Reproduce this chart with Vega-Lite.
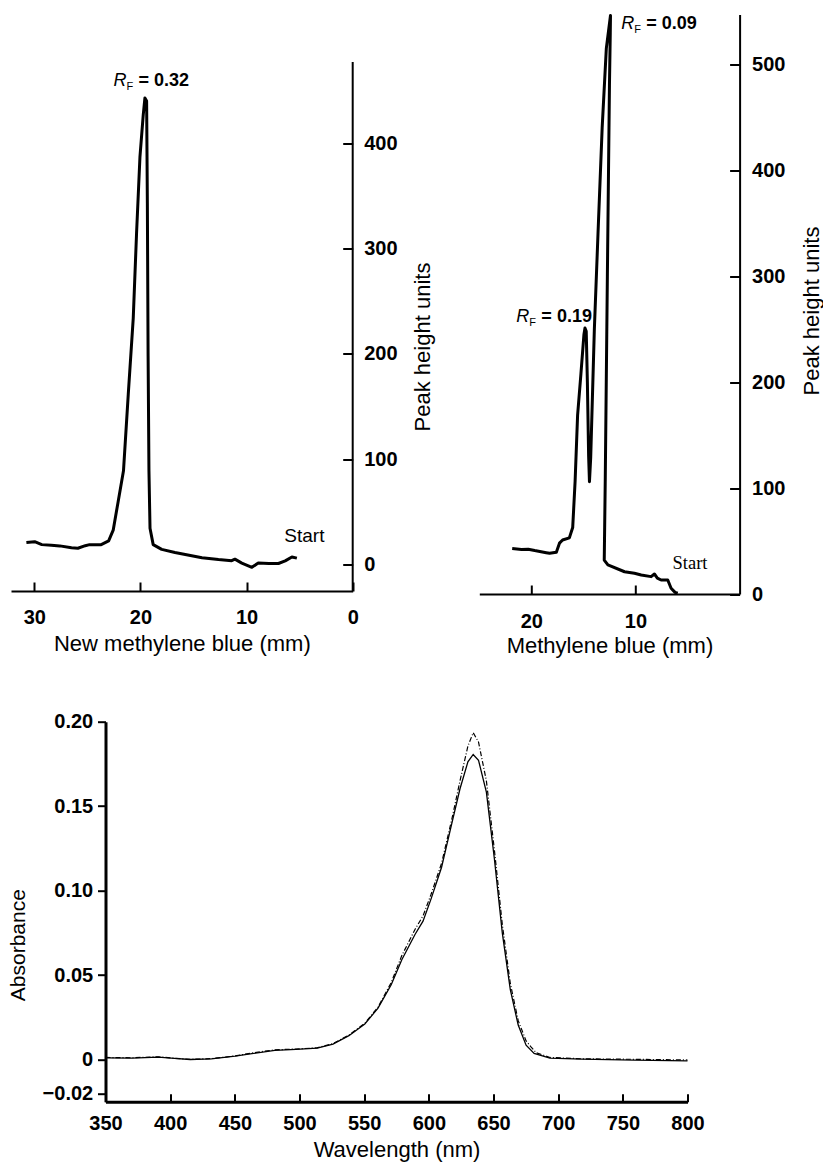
{
  "$schema": "https://vega.github.io/schema/vega-lite/v6.json",
  "background": "white",
  "padding": {"left": 7, "top": 13.5, "right": 2, "bottom": 2},
  "config": {
    "view": {"stroke": null},
    "axis": {"grid": false, "labelFlush": false, "labelOverlap": false, "labelBound": false,
      "domainColor": "black", "tickColor": "black", "labelColor": "black", "titleColor": "black",
      "labelFont": "Liberation Sans", "titleFont": "Liberation Sans"}
  },
  "datasets": {
    "nmb": [
      {"i": 1, "mm": 30.75, "v": 21}, {"i": 2, "mm": 29.97, "v": 21.8}, {"i": 3, "mm": 29.3, "v": 19},
      {"i": 4, "mm": 28.4, "v": 18.5}, {"i": 5, "mm": 27.6, "v": 17.8}, {"i": 6, "mm": 26.5, "v": 16},
      {"i": 7, "mm": 25.9, "v": 15.6}, {"i": 8, "mm": 25.2, "v": 18}, {"i": 9, "mm": 24.8, "v": 19},
      {"i": 10, "mm": 23.7, "v": 19}, {"i": 11, "mm": 23.0, "v": 22.5}, {"i": 12, "mm": 22.57, "v": 32.7},
      {"i": 13, "mm": 22.1, "v": 60}, {"i": 14, "mm": 21.6, "v": 89}, {"i": 15, "mm": 21.15, "v": 161.5},
      {"i": 16, "mm": 20.68, "v": 234}, {"i": 17, "mm": 20.37, "v": 314}, {"i": 18, "mm": 20.05, "v": 386.6},
      {"i": 19, "mm": 19.74, "v": 426.5}, {"i": 20, "mm": 19.58, "v": 442.8}, {"i": 21, "mm": 19.42, "v": 440},
      {"i": 22, "mm": 19.35, "v": 343}, {"i": 23, "mm": 19.28, "v": 198}, {"i": 24, "mm": 19.2, "v": 89},
      {"i": 25, "mm": 19.1, "v": 34.5}, {"i": 26, "mm": 18.8, "v": 19}, {"i": 27, "mm": 18.0, "v": 14.5},
      {"i": 28, "mm": 16.75, "v": 11.5}, {"i": 29, "mm": 14.2, "v": 6.5}, {"i": 30, "mm": 12.65, "v": 4.8},
      {"i": 31, "mm": 11.4, "v": 3.8}, {"i": 32, "mm": 11.1, "v": 5.2}, {"i": 33, "mm": 10.45, "v": 1.5},
      {"i": 34, "mm": 9.5, "v": -2.5}, {"i": 35, "mm": 8.9, "v": 1.5}, {"i": 36, "mm": 7.9, "v": 1.1},
      {"i": 37, "mm": 7.0, "v": 1.1}, {"i": 38, "mm": 6.36, "v": 3.6}, {"i": 39, "mm": 5.73, "v": 7.3},
      {"i": 40, "mm": 5.26, "v": 6.2}
    ],
    "mb": [
      {"i": 1, "mm": 21.84, "v": 43}, {"i": 2, "mm": 20.95, "v": 42}, {"i": 3, "mm": 20.3, "v": 42.3},
      {"i": 4, "mm": 19.68, "v": 41}, {"i": 5, "mm": 18.57, "v": 39}, {"i": 6, "mm": 18.25, "v": 38.4},
      {"i": 7, "mm": 17.6, "v": 39.5}, {"i": 8, "mm": 17.3, "v": 48}, {"i": 9, "mm": 17.0, "v": 51},
      {"i": 10, "mm": 16.35, "v": 53}, {"i": 11, "mm": 16.03, "v": 62.7}, {"i": 12, "mm": 15.8, "v": 106},
      {"i": 13, "mm": 15.56, "v": 168.6}, {"i": 14, "mm": 15.24, "v": 207.8}, {"i": 15, "mm": 14.95, "v": 245},
      {"i": 16, "mm": 14.85, "v": 251}, {"i": 17, "mm": 14.73, "v": 248}, {"i": 18, "mm": 14.62, "v": 200},
      {"i": 19, "mm": 14.5, "v": 130}, {"i": 20, "mm": 14.42, "v": 106}, {"i": 21, "mm": 14.3, "v": 129},
      {"i": 22, "mm": 13.95, "v": 250}, {"i": 23, "mm": 13.6, "v": 340}, {"i": 24, "mm": 13.2, "v": 440},
      {"i": 25, "mm": 12.8, "v": 515}, {"i": 26, "mm": 12.4, "v": 546}, {"i": 27, "mm": 12.42, "v": 530},
      {"i": 28, "mm": 12.5, "v": 480}, {"i": 29, "mm": 12.7, "v": 300}, {"i": 30, "mm": 12.9, "v": 110},
      {"i": 31, "mm": 13.0, "v": 32}, {"i": 32, "mm": 12.65, "v": 27.4}, {"i": 33, "mm": 11.05, "v": 21},
      {"i": 34, "mm": 10.1, "v": 19.6}, {"i": 35, "mm": 9.45, "v": 18}, {"i": 36, "mm": 8.5, "v": 16.4},
      {"i": 37, "mm": 8.18, "v": 18.9}, {"i": 38, "mm": 7.9, "v": 15}, {"i": 39, "mm": 7.54, "v": 13.2},
      {"i": 40, "mm": 6.9, "v": 13.2}, {"i": 41, "mm": 6.58, "v": 5.4}, {"i": 42, "mm": 6.2, "v": 1.5},
      {"i": 43, "mm": 5.94, "v": 0.7}
    ],
    "spec": [
      {"s": "solid", "nm": 350, "a": 0.0010}, {"s": "solid", "nm": 370.5, "a": 0.0008}, {"s": "solid", "nm": 390.9, "a": 0.0014},
      {"s": "solid", "nm": 403.2, "a": 0.0006}, {"s": "solid", "nm": 415.5, "a": 0.0}, {"s": "solid", "nm": 431.8, "a": 0.0004},
      {"s": "solid", "nm": 450.2, "a": 0.0020}, {"s": "solid", "nm": 464.5, "a": 0.0036}, {"s": "solid", "nm": 480.9, "a": 0.0054},
      {"s": "solid", "nm": 497.3, "a": 0.0060}, {"s": "solid", "nm": 513.6, "a": 0.0067}, {"s": "solid", "nm": 525.9, "a": 0.0091},
      {"s": "solid", "nm": 538.2, "a": 0.0141}, {"s": "solid", "nm": 550.5, "a": 0.0210}, {"s": "solid", "nm": 560.7, "a": 0.0304},
      {"s": "solid", "nm": 570.9, "a": 0.0442}, {"s": "solid", "nm": 579.1, "a": 0.0591}, {"s": "solid", "nm": 589.3, "a": 0.0740},
      {"s": "solid", "nm": 595.5, "a": 0.0819}, {"s": "solid", "nm": 601.6, "a": 0.0948}, {"s": "solid", "nm": 609.8, "a": 0.1137},
      {"s": "solid", "nm": 618.0, "a": 0.1405}, {"s": "solid", "nm": 624.1, "a": 0.1603}, {"s": "solid", "nm": 630.2, "a": 0.1762},
      {"s": "solid", "nm": 634.3, "a": 0.1806}, {"s": "solid", "nm": 638.4, "a": 0.1772}, {"s": "solid", "nm": 644.5, "a": 0.1583},
      {"s": "solid", "nm": 650.7, "a": 0.1187}, {"s": "solid", "nm": 656.8, "a": 0.0750}, {"s": "solid", "nm": 663.0, "a": 0.0413},
      {"s": "solid", "nm": 669.1, "a": 0.0204}, {"s": "solid", "nm": 675.2, "a": 0.0085}, {"s": "solid", "nm": 681.4, "a": 0.0036},
      {"s": "solid", "nm": 693.6, "a": 0.0008}, {"s": "solid", "nm": 718.2, "a": 0.0002}, {"s": "solid", "nm": 759.1, "a": -0.0004},
      {"s": "solid", "nm": 800, "a": -0.0008},
      {"s": "dash", "nm": 350, "a": 0.0012}, {"s": "dash", "nm": 370.5, "a": 0.0010}, {"s": "dash", "nm": 390.9, "a": 0.0016},
      {"s": "dash", "nm": 403.2, "a": 0.0007}, {"s": "dash", "nm": 415.5, "a": 0.0001}, {"s": "dash", "nm": 431.8, "a": 0.0005},
      {"s": "dash", "nm": 450.2, "a": 0.0021}, {"s": "dash", "nm": 464.5, "a": 0.0040}, {"s": "dash", "nm": 480.9, "a": 0.0057},
      {"s": "dash", "nm": 497.3, "a": 0.0062}, {"s": "dash", "nm": 513.6, "a": 0.0069}, {"s": "dash", "nm": 525.9, "a": 0.0094},
      {"s": "dash", "nm": 538.2, "a": 0.0145}, {"s": "dash", "nm": 550.5, "a": 0.0214}, {"s": "dash", "nm": 560.7, "a": 0.0310},
      {"s": "dash", "nm": 570.9, "a": 0.0455}, {"s": "dash", "nm": 579.1, "a": 0.0615}, {"s": "dash", "nm": 589.3, "a": 0.0770},
      {"s": "dash", "nm": 595.5, "a": 0.0850}, {"s": "dash", "nm": 601.6, "a": 0.0975}, {"s": "dash", "nm": 609.8, "a": 0.1160},
      {"s": "dash", "nm": 618.0, "a": 0.1430}, {"s": "dash", "nm": 624.1, "a": 0.1650}, {"s": "dash", "nm": 630.2, "a": 0.1855},
      {"s": "dash", "nm": 634.3, "a": 0.1935}, {"s": "dash", "nm": 638.4, "a": 0.1880}, {"s": "dash", "nm": 644.5, "a": 0.1650},
      {"s": "dash", "nm": 650.7, "a": 0.1240}, {"s": "dash", "nm": 656.8, "a": 0.0800}, {"s": "dash", "nm": 663.0, "a": 0.0450},
      {"s": "dash", "nm": 669.1, "a": 0.0230}, {"s": "dash", "nm": 675.2, "a": 0.0110}, {"s": "dash", "nm": 679.0, "a": 0.0075},
      {"s": "dash", "nm": 683.0, "a": 0.0040}, {"s": "dash", "nm": 693.6, "a": 0.0012}, {"s": "dash", "nm": 718.2, "a": 0.0004},
      {"s": "dash", "nm": 759.1, "a": 0.0001}, {"s": "dash", "nm": 800, "a": -0.0003}
    ],
    "labL": [{"mm": 22.54, "v": 459, "t": "= 0.32"}],
    "labR": [{"mm": 21.44, "v": 261.6, "t": "= 0.19"}, {"mm": 11.37, "v": 538, "t": "= 0.09"}],
    "startL": [{"mm": 4.55, "v": 27.2, "t": "Start"}],
    "startR": [{"mm": 4.76, "v": 29.1, "t": "Start"}],
    "axisL": [{"mm": 0, "v": -25, "v2": 477}]
  },
  "spacing": 707.2,
  "bounds": "flush",
  "vconcat": [
    {
      "spacing": 126.3,
      "bounds": "flush",
      "hconcat": [
        {
          "width": 341.7,
          "height": 576.5,
          "layer": [
            {
              "data": {"name": "nmb"},
              "mark": {"type": "line", "color": "black", "strokeWidth": 3, "strokeJoin": "round"},
              "encoding": {
                "x": {"field": "mm", "type": "quantitative",
                  "scale": {"domain": [0, 32.2], "reverse": true, "nice": false, "zero": false},
                  "axis": {"orient": "bottom", "values": [30, 20, 10, 0], "format": "d",
                    "title": "New methylene blue (mm)", "tickSize": -9, "tickWidth": 2, "domainWidth": 2,
                    "labelPadding": 25, "labelFontSize": 20, "labelFontWeight": "bold",
                    "titleFontSize": 22, "titleFontWeight": "normal", "titleY": 52, "titleBaseline": "middle"}},
                "y": {"field": "v", "type": "quantitative",
                  "scale": {"domain": [-25, 522], "nice": false, "zero": false},
                  "axis": {"orient": "right", "values": [0, 100, 200, 300, 400], "format": "d", "domain": false,
                    "title": "Peak height units", "tickSize": -10, "tickWidth": 2,
                    "labelPadding": 21, "labelFontSize": 20, "labelFontWeight": "bold",
                    "titleFontSize": 22, "titleFontWeight": "normal", "titleAngle": 270,
                    "titleX": 70, "titleY": 332, "titleBaseline": "middle", "titleAlign": "center"}},
                "order": {"field": "i", "type": "quantitative"}
              }
            },
            {
              "data": {"name": "axisL"},
              "mark": {"type": "rule", "color": "black", "strokeWidth": 2},
              "encoding": {
                "x": {"field": "mm", "type": "quantitative"},
                "y": {"field": "v", "type": "quantitative"},
                "y2": {"field": "v2"}
              }
            },
            {
              "data": {"name": "labL"},
              "mark": {"type": "text", "font": "Liberation Sans", "fontStyle": "italic", "fontSize": 18, "align": "left", "baseline": "middle", "color": "black"},
              "encoding": {"x": {"field": "mm", "type": "quantitative"}, "y": {"field": "v", "type": "quantitative"}, "text": {"value": "R"}}
            },
            {
              "data": {"name": "labL"},
              "mark": {"type": "text", "font": "Liberation Sans", "fontSize": 11, "align": "left", "baseline": "middle", "dx": 13, "dy": 6, "color": "black"},
              "encoding": {"x": {"field": "mm", "type": "quantitative"}, "y": {"field": "v", "type": "quantitative"}, "text": {"value": "F"}}
            },
            {
              "data": {"name": "labL"},
              "mark": {"type": "text", "font": "Liberation Sans", "fontWeight": "bold", "fontSize": 18, "align": "left", "baseline": "middle", "dx": 25, "color": "black"},
              "encoding": {"x": {"field": "mm", "type": "quantitative"}, "y": {"field": "v", "type": "quantitative"}, "text": {"field": "t"}}
            },
            {
              "data": {"name": "startL"},
              "mark": {"type": "text", "font": "Liberation Sans", "fontSize": 19, "align": "center", "baseline": "middle", "color": "black"},
              "encoding": {"x": {"field": "mm", "type": "quantitative"}, "y": {"field": "v", "type": "quantitative"}, "text": {"field": "t"}}
            }
          ]
        },
        {
          "width": 260.3,
          "height": 579.5,
          "layer": [
            {
              "data": {"name": "mb"},
              "mark": {"type": "line", "color": "black", "strokeWidth": 3, "strokeJoin": "round"},
              "encoding": {
                "x": {"field": "mm", "type": "quantitative",
                  "scale": {"domain": [0, 25], "reverse": true, "nice": false, "zero": false},
                  "axis": {"orient": "bottom", "values": [20, 10], "format": "d",
                    "title": "Methylene blue (mm)", "tickSize": -9, "tickWidth": 2, "domainWidth": 2,
                    "labelPadding": 26.5, "labelFontSize": 20, "labelFontWeight": "bold",
                    "titleFontSize": 22, "titleFontWeight": "normal", "titleY": 51, "titleBaseline": "middle"}},
                "y": {"field": "v", "type": "quantitative",
                  "scale": {"domain": [0, 547], "nice": false, "zero": false},
                  "axis": {"orient": "right", "values": [0, 100, 200, 300, 400, 500], "format": "d",
                    "title": "Peak height units", "tickSize": -10, "tickWidth": 2, "domainWidth": 2,
                    "labelPadding": 22, "labelFontSize": 20, "labelFontWeight": "bold",
                    "titleFontSize": 22, "titleFontWeight": "normal", "titleAngle": 270,
                    "titleX": 72, "titleY": 296, "titleBaseline": "middle", "titleAlign": "center"}},
                "order": {"field": "i", "type": "quantitative"}
              }
            },
            {
              "data": {"name": "labR"},
              "mark": {"type": "text", "font": "Liberation Sans", "fontStyle": "italic", "fontSize": 18, "align": "left", "baseline": "middle", "color": "black"},
              "encoding": {"x": {"field": "mm", "type": "quantitative"}, "y": {"field": "v", "type": "quantitative"}, "text": {"value": "R"}}
            },
            {
              "data": {"name": "labR"},
              "mark": {"type": "text", "font": "Liberation Sans", "fontSize": 11, "align": "left", "baseline": "middle", "dx": 13, "dy": 6, "color": "black"},
              "encoding": {"x": {"field": "mm", "type": "quantitative"}, "y": {"field": "v", "type": "quantitative"}, "text": {"value": "F"}}
            },
            {
              "data": {"name": "labR"},
              "mark": {"type": "text", "font": "Liberation Sans", "fontWeight": "bold", "fontSize": 18, "align": "left", "baseline": "middle", "dx": 25, "color": "black"},
              "encoding": {"x": {"field": "mm", "type": "quantitative"}, "y": {"field": "v", "type": "quantitative"}, "text": {"field": "t"}}
            },
            {
              "data": {"name": "startR"},
              "mark": {"type": "text", "font": "Liberation Serif", "fontSize": 18.5, "align": "center", "baseline": "middle", "color": "black"},
              "encoding": {"x": {"field": "mm", "type": "quantitative"}, "y": {"field": "v", "type": "quantitative"}, "text": {"field": "t"}}
            }
          ]
        }
      ]
    },
    {
      "spacing": 93.5,
      "bounds": "flush",
      "hconcat": [
        {
          "width": 1,
          "height": 1,
          "data": {"values": [{"a": 1}]},
          "mark": {"type": "point", "size": 1, "opacity": 0},
          "encoding": {}
        },
        {
          "width": 582,
          "height": 380,
          "data": {"name": "spec"},
          "layer": [
            {
              "transform": [{"filter": "datum.s === 'solid'"}],
              "mark": {"type": "line", "color": "black", "strokeWidth": 1.3},
              "encoding": {
                "x": {"field": "nm", "type": "quantitative",
                  "scale": {"domain": [350, 800], "nice": false, "zero": false},
                  "axis": {"orient": "bottom", "values": [350, 400, 450, 500, 550, 600, 650, 700, 750, 800],
                    "title": "Wavelength (nm)", "tickSize": -8, "tickWidth": 2, "domainWidth": 3,
                    "labelPadding": 19.3, "labelFontSize": 20, "labelFontWeight": "bold",
                    "titleFontSize": 22, "titleFontWeight": "normal", "titleY": 48, "titleBaseline": "middle"}},
                "y": {"field": "a", "type": "quantitative",
                  "scale": {"domain": [-0.025, 0.2], "nice": false, "zero": false},
                  "axis": {"orient": "left", "values": [-0.02, 0, 0.05, 0.1, 0.15, 0.2],
                    "labelExpr": "datum.value == 0 ? '0' : format(datum.value, '.2f')",
                    "title": "Absorbance", "tickSize": 8, "tickWidth": 2, "domainWidth": 3,
                    "labelPadding": 4.8, "labelFontSize": 20, "labelFontWeight": "bold",
                    "titleFontSize": 21, "titleFontWeight": "normal", "titleAngle": 270,
                    "titleX": -87, "titleY": 223, "titleBaseline": "middle", "titleAlign": "center"}}
              }
            },
            {
              "transform": [{"filter": "datum.s === 'dash'"}],
              "mark": {"type": "line", "color": "black", "strokeWidth": 1.2, "strokeDash": [5, 2, 1, 2]},
              "encoding": {
                "x": {"field": "nm", "type": "quantitative"},
                "y": {"field": "a", "type": "quantitative"}
              }
            }
          ]
        }
      ]
    }
  ]
}
